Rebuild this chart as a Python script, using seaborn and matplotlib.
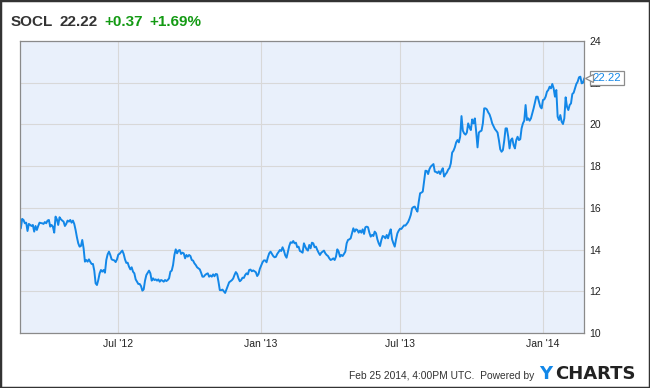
import matplotlib
matplotlib.use("Agg")
import matplotlib.dates as mdates
import matplotlib.pyplot as plt
import matplotlib.transforms as mtransforms
import pandas as pd
import seaborn as sns
from matplotlib.patches import Rectangle

# header values
ticker = "SOCL"
last_price = 22.22
change = "+0.37"
change_pct = "+1.69%"
stamp = "Feb 25 2014, 4:00PM UTC.  Powered by"

# two-year daily-ish closes (evenly spaced in time)
start_date, end_date = "2012-02-24", "2014-02-24"
price = [
    14.97, 15.02, 15.47, 15.42, 15.26, 15.29, 14.89, 15.23, 15.18, 15.13,
    15.18, 14.86, 15.13, 14.94, 15.13, 15.29, 15.27, 15.26, 15.23, 15.32,
    15.26, 15.39, 15.42, 15.10, 15.18, 15.10, 14.81, 15.58, 15.45, 15.18,
    15.55, 15.45, 15.39, 15.34, 15.13, 15.23, 15.39, 15.34, 15.42, 15.29,
    15.39, 15.23, 14.94, 14.59, 14.30, 14.14, 14.17, 14.46, 14.06, 13.42,
    13.50, 13.42, 13.53, 13.41, 13.31, 13.31, 12.99, 12.38, 12.30, 12.54,
    12.86, 13.02, 12.94, 13.02, 12.89, 13.50, 13.77, 13.90,
    13.74, 13.53, 13.50, 13.48, 13.40, 13.53, 13.76, 13.80, 13.88, 13.95,
    13.79, 13.53, 13.36, 13.37, 13.18, 13.05, 13.15, 12.94, 12.86, 12.57,
    12.46, 12.35, 12.35, 12.25, 12.03, 12.09, 12.51, 12.78, 12.89, 12.99,
    12.86, 12.51, 12.62, 12.54, 12.57, 12.51, 12.57, 12.46, 12.54, 12.51,
    12.46, 12.54, 12.49, 12.54, 12.62, 12.94, 12.99, 13.26, 13.74, 14.01,
    13.82, 13.95, 13.98, 13.79, 13.85, 13.82, 13.58, 13.74, 13.66, 13.74,
    13.69, 13.50, 13.47, 13.34, 13.26, 13.15, 13.10, 13.05, 12.89, 12.70,
    12.70,
    12.78, 12.83, 12.86, 12.70, 12.76, 12.70, 12.81, 12.72, 12.83, 12.81,
    12.46, 12.06, 12.05, 12.08, 12.00, 11.92, 12.09, 12.27, 12.43, 12.48,
    12.53, 12.61, 12.78, 12.92, 12.83, 12.62, 12.48, 12.54, 12.65, 12.64,
    12.78, 12.86, 12.81, 13.02, 13.04, 12.96, 13.00, 12.96, 12.91, 12.73,
    12.83, 13.08, 13.23, 13.39, 13.48, 13.48, 13.39, 13.63, 13.82, 13.90,
    13.79, 13.69, 13.63, 13.65, 13.79, 13.88, 13.98, 13.93, 14.11, 13.95,
    13.72, 13.61, 13.90, 14.17, 14.35, 14.32, 14.41, 14.30, 14.33, 14.11,
    14.14, 13.93,
    13.90, 13.85, 14.30, 14.14, 14.01, 13.95, 14.22, 14.06, 14.33, 14.30,
    14.11, 14.14, 13.98, 13.85, 13.74, 13.85, 13.90, 13.95, 13.82, 13.74,
    13.69, 13.58, 13.50, 13.53, 13.58, 13.50, 13.66, 14.01, 13.90, 13.66,
    13.74, 13.69, 13.79, 13.90, 14.30, 14.46, 14.49, 14.54, 14.78, 15.02,
    14.86, 14.97, 14.94, 14.81, 14.91, 14.81, 14.97, 14.75, 15.07, 15.10,
    15.07, 14.81, 14.62, 14.70, 14.65, 14.86, 14.78, 14.49, 14.30, 14.17,
    14.46, 14.65, 14.62, 14.54, 14.70, 14.54, 14.78, 14.97, 14.49, 14.30,
    14.14,
    14.49, 14.78, 14.91, 15.00, 14.99, 15.08, 15.16, 15.15, 15.23, 15.32,
    15.47, 15.66, 15.98, 16.04, 16.06, 15.93, 15.82, 16.30, 16.70, 16.73,
    16.78, 17.30, 17.78, 17.77, 17.62, 17.86, 17.98, 18.04, 18.10, 17.74,
    17.72, 17.67, 17.75, 17.62, 17.78, 17.90, 17.50, 17.61, 17.69, 17.83,
    17.91, 18.13, 18.65, 18.74, 18.90, 19.14, 19.25, 19.14, 19.41, 20.40,
    19.70, 19.57, 19.51, 19.61, 20.05, 19.86, 19.73, 20.24, 20.05, 20.29,
    19.65, 18.90, 19.61, 19.67, 19.70, 20.05, 20.77,
    20.77, 20.72, 20.58, 20.48, 20.29, 20.05, 19.92, 19.78, 19.70, 19.61,
    19.25, 18.81, 18.69, 18.77, 19.22, 19.81, 19.81, 19.41, 18.85, 19.25,
    19.33, 19.01, 18.85, 19.25, 19.41, 19.25, 19.29, 19.81, 20.05, 20.18,
    20.93, 20.21, 20.29, 20.18, 20.29, 20.53, 20.77, 21.04, 21.33, 21.33,
    21.09, 20.85, 20.77, 21.17, 21.20, 21.33, 21.57, 21.65, 21.81, 21.73,
    21.94, 21.73, 21.33, 21.65, 20.37, 20.21, 20.45, 20.13, 20.02, 20.29,
    21.30, 20.85, 20.69, 20.93, 21.01, 21.46, 21.52, 21.73, 21.94, 22.05,
    22.26, 22.29, 21.97, 22.00, 22.22,
]
y_ticks = [10, 12, 14, 16, 18, 20, 22, 24]

sns.set_theme(style="whitegrid")
plt.rcParams["font.family"] = ["Liberation Sans", "DejaVu Sans"]

df = pd.DataFrame({
    "date": pd.date_range(start_date, end_date, periods=len(price)),
    "price": price,
})

fig = plt.figure(figsize=(6.5, 3.88), dpi=100)
ax = fig.add_axes([0.030, 0.1418, 0.869, 0.7525])
ax.set_facecolor("#e9f0fb")

sns.lineplot(data=df, x="date", y="price", ax=ax, color="#1287e8", linewidth=1.4)

ax.set_xlim(df["date"].iloc[0], df["date"].iloc[-1])
ax.set_ylim(y_ticks[0], y_ticks[-1])
ax.set_yticks(y_ticks)
ax.yaxis.tick_right()
ax.xaxis.set_major_locator(mdates.MonthLocator(bymonth=[1, 7]))
ax.xaxis.set_major_formatter(mdates.DateFormatter("%b '%y"))
ax.tick_params(length=0, labelsize=7.5, colors="#222222")
ax.tick_params(axis="y", pad=3.5)
ax.tick_params(axis="x", pad=4.5)
ax.grid(color="#d8d8d8", linewidth=0.8)
for s in ax.spines.values():
    s.set_color("#8a8a8a")
    s.set_linewidth(0.9)
ax.set_xlabel("")
ax.set_ylabel("")

# last-price flag on the right axis (covers the "22" tick like the original)
ax.annotate(f"{last_price:.2f}", xy=(1, last_price),
            xycoords=("axes fraction", "data"),
            xytext=(6, 0), textcoords="offset points",
            ha="left", va="center", fontsize=8.2, color="#1287e8",
            bbox=dict(boxstyle="square,pad=0.2", fc="white", ec="#8c8c8c", lw=0.9),
            annotation_clip=False, zorder=5)
flag = mtransforms.offset_copy(ax.get_yaxis_transform(), fig=fig, x=4.5, y=0, units="dots")
ax.plot([1], [last_price], marker="<", markersize=6, mfc="white", mec="#8c8c8c",
        mew=0.9, transform=flag, clip_on=False, zorder=6)

# header
hdr_y = 1 - 26 / 388
fig.text(11 / 650, hdr_y, ticker, fontsize=11, weight="bold", color="#333333", va="baseline")
fig.text(60 / 650, hdr_y, f"{last_price:.2f}", fontsize=11, weight="bold", color="#333333", va="baseline")
fig.text(104 / 650, hdr_y, change, fontsize=11, weight="bold", color="#139a13", va="baseline")
fig.text(149 / 650, hdr_y, change_pct, fontsize=11, weight="bold", color="#139a13", va="baseline")

# footer
foot_y = 1 - 379 / 388
fig.text(534 / 650, foot_y, stamp, fontsize=7.4, color="#333333", ha="right", va="baseline")
fig.text(539 / 650, foot_y, "Y", fontsize=13, weight="bold", color="#1287e8",
         va="baseline", family="DejaVu Sans")
fig.text(555 / 650, foot_y, "CHARTS", fontsize=13, weight="bold", color="#222222",
         va="baseline", family="DejaVu Sans")

# outer frame
fig.patches.append(Rectangle((0, 0), 1, 1, transform=fig.transFigure, fill=False,
                             ec="#333333", lw=2.5))

fig.savefig("out.png", dpi=100)
